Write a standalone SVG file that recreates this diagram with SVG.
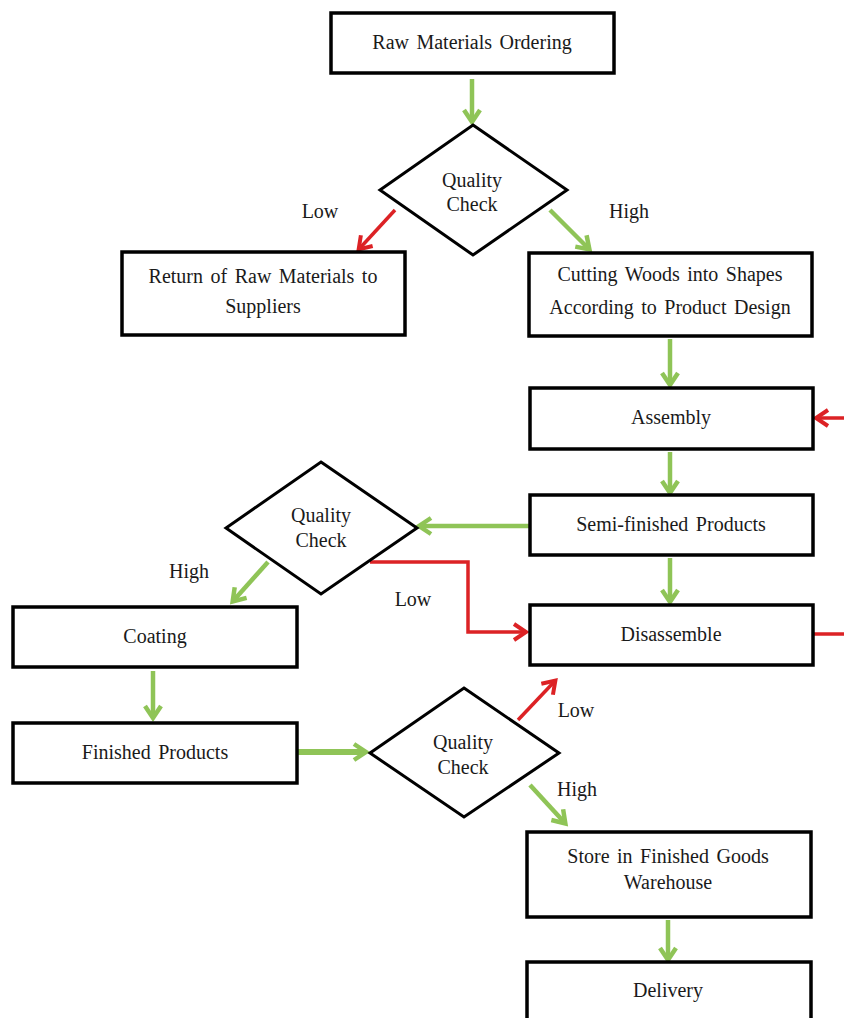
<svg xmlns="http://www.w3.org/2000/svg" width="844" height="1018" viewBox="0 0 844 1018">
  <defs>
    <marker id="ag" markerUnits="userSpaceOnUse" viewBox="-14 -11 18 22" markerWidth="18" markerHeight="22" refX="0" refY="0" orient="auto" overflow="visible">
      <path d="M-10,-8 L2,0 L-10,8" fill="none" stroke="#8fc457" stroke-width="4.5" stroke-linejoin="miter"/>
    </marker>
    <marker id="ar" markerUnits="userSpaceOnUse" viewBox="-14 -11 18 22" markerWidth="18" markerHeight="22" refX="0" refY="0" orient="auto" overflow="visible">
      <path d="M-10,-8 L2,0 L-10,8" fill="none" stroke="#dc2225" stroke-width="4" stroke-linejoin="miter"/>
    </marker>
  </defs>
  <style>
    .box { fill: #ffffff; stroke: #000000; stroke-width: 3.5; }
    .dia { fill: #ffffff; stroke: #000000; stroke-width: 3; }
    .t { font-family: "Liberation Serif", "Times New Roman", serif; font-size: 20px; fill: #1a1a1a; text-anchor: middle; word-spacing: 2.5px; }
    .g { fill: none; stroke: #8fc457; stroke-width: 4.5; marker-end: url(#ag); }
    .r { fill: none; stroke: #dc2225; stroke-width: 3.5; marker-end: url(#ar); }
  </style>
  <rect width="844" height="1018" fill="#ffffff"/>

  <g id="connectors">
    <line class="g" x1="472" y1="79" x2="472" y2="120"/>
    <line class="r" x1="395" y1="210" x2="360" y2="248"/>
    <line class="g" x1="550" y1="210" x2="588" y2="248"/>
    <line class="g" x1="670" y1="339" x2="670" y2="383"/>
    <line class="g" x1="670" y1="452" x2="670" y2="491"/>
    <line class="g" x1="670" y1="558" x2="670" y2="600"/>
    <line class="g" x1="530" y1="526" x2="421" y2="526"/>
    <polyline class="r" points="370,562 468,562 468,632 524,632"/>
    <line class="g" x1="268" y1="562" x2="234" y2="600"/>
    <line class="g" x1="153" y1="671" x2="153" y2="716"/>
    <line class="g" x1="297" y1="752" x2="364" y2="752" style="stroke-width:6"/>
    <line class="r" x1="518" y1="720" x2="554" y2="682"/>
    <line class="g" x1="530" y1="785" x2="564" y2="822"/>
    <line class="g" x1="668" y1="920" x2="668" y2="958"/>
    <polyline class="r" points="813,634 852,634 852,418 818,418"/>
  </g>

  <g id="raw-materials-ordering">
    <rect class="box" x="331" y="13" width="283" height="60"/>
    <text class="t" x="472" y="49">Raw Materials Ordering</text>
  </g>
  <g id="quality-check-1">
    <polygon class="dia" points="473,125 567,190 473,255 380,190"/>
    <text class="t" x="472" y="187">Quality</text>
    <text class="t" x="472" y="211">Check</text>
  </g>
  <g id="label-low-1"><text class="t" x="320" y="218">Low</text></g>
  <g id="label-high-1"><text class="t" x="629" y="218">High</text></g>
  <g id="return-raw-materials">
    <rect class="box" x="122" y="252" width="283" height="83"/>
    <text class="t" x="263" y="283">Return of Raw Materials to</text>
    <text class="t" x="263" y="313">Suppliers</text>
  </g>
  <g id="cutting-woods">
    <rect class="box" x="529" y="253" width="283" height="83"/>
    <text class="t" x="670" y="281">Cutting Woods into Shapes</text>
    <text class="t" x="670" y="314">According to Product Design</text>
  </g>
  <g id="assembly">
    <rect class="box" x="530" y="388" width="283" height="61"/>
    <text class="t" x="671" y="424">Assembly</text>
  </g>
  <g id="semi-finished-products">
    <rect class="box" x="530" y="495" width="283" height="60"/>
    <text class="t" x="671" y="531">Semi-finished Products</text>
  </g>
  <g id="disassemble">
    <rect class="box" x="530" y="605" width="283" height="60"/>
    <text class="t" x="671" y="641">Disassemble</text>
  </g>
  <g id="quality-check-2">
    <polygon class="dia" points="321,462 417,528 321,594 226,528"/>
    <text class="t" x="321" y="522">Quality</text>
    <text class="t" x="321" y="547">Check</text>
  </g>
  <g id="label-high-2"><text class="t" x="189" y="578">High</text></g>
  <g id="label-low-2"><text class="t" x="413" y="606">Low</text></g>
  <g id="coating">
    <rect class="box" x="13" y="607" width="284" height="60"/>
    <text class="t" x="155" y="643">Coating</text>
  </g>
  <g id="finished-products">
    <rect class="box" x="13" y="723" width="284" height="60"/>
    <text class="t" x="155" y="759">Finished Products</text>
  </g>
  <g id="quality-check-3">
    <polygon class="dia" points="464,688 559,753 464,817 370,753"/>
    <text class="t" x="463" y="749">Quality</text>
    <text class="t" x="463" y="774">Check</text>
  </g>
  <g id="label-low-3"><text class="t" x="576" y="717">Low</text></g>
  <g id="label-high-3"><text class="t" x="577" y="796">High</text></g>
  <g id="store-warehouse">
    <rect class="box" x="527" y="832" width="284" height="85"/>
    <text class="t" x="668" y="863">Store in Finished Goods</text>
    <text class="t" x="668" y="889">Warehouse</text>
  </g>
  <g id="delivery">
    <rect class="box" x="527" y="962" width="284" height="70"/>
    <text class="t" x="668" y="997">Delivery</text>
  </g>
</svg>
